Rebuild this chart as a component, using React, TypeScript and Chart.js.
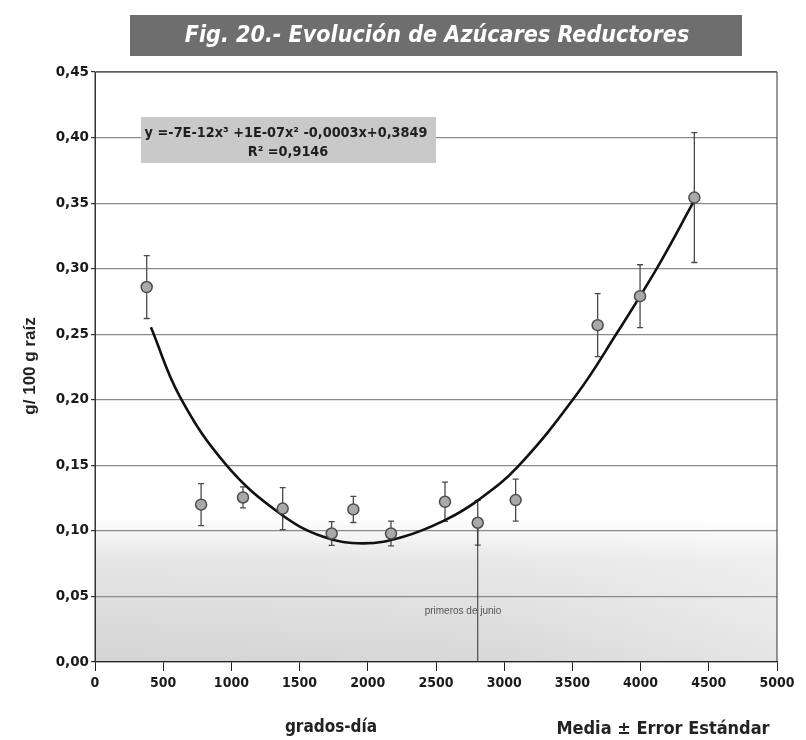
import React, { useEffect, useRef } from "react";
import { Chart, registerables } from "chart.js";

Chart.register(...registerables);

// Measured means (grados-día vs g/100 g raíz) and standard errors
const gradosDia = [379, 778, 1085, 1376, 1735, 1894, 2170, 2566, 2806, 3084, 3685, 3996, 4394];
const azucares = [0.286, 0.120, 0.1255, 0.117, 0.098, 0.1164, 0.098, 0.1222, 0.1062, 0.1235, 0.2569, 0.279, 0.3542];
const errorEst = [0.024, 0.016, 0.008, 0.016, 0.009, 0.010, 0.0095, 0.015, 0.017, 0.016, 0.024, 0.024, 0.0495];

// Trend line
const trendX = [410, 623, 965, 1356, 1674, 1967, 2260, 2566, 2810, 3100, 3531, 3824, 4118, 4394];
const trendY = [0.2553, 0.2022, 0.150, 0.1133, 0.0955, 0.0905, 0.0955, 0.1082, 0.1235, 0.149, 0.204, 0.2505, 0.300, 0.352];

const xTicks = [0, 500, 1000, 1500, 2000, 2500, 3000, 3500, 4000, 4500, 5000];
const yTicks = [0, 0.05, 0.1, 0.15, 0.2, 0.25, 0.3, 0.35, 0.4, 0.45];

const junioX = 2806;
const junioTop = 0.1062;

const titleText = "Fig. 20.- Evolución de Azúcares Reductores";
const eqLine1 = "y =-7E-12x³ +1E-07x² -0,0003x+0,3849";
const eqLine2 = "R² =0,9146";

const NARROW = '"Liberation Sans Narrow", "DejaVu Sans Condensed", "Liberation Sans", Arial, sans-serif';
const SANS = '"Liberation Sans", Arial, sans-serif';
const DEJAVU = '"DejaVu Sans", "Liberation Sans", sans-serif';

const decorPlugin = {
  id: "decor",
  beforeDatasetsDraw(chart: any) {
    const { ctx, scales } = chart;
    const x = scales.x, y = scales.y;
    ctx.save();
    // error bars
    ctx.strokeStyle = "#4a4a4a";
    ctx.lineWidth = 1.3;
    for (let i = 0; i < gradosDia.length; i++) {
      const px = x.getPixelForValue(gradosDia[i]);
      const top = y.getPixelForValue(azucares[i] + errorEst[i]);
      const bot = y.getPixelForValue(azucares[i] - errorEst[i]);
      ctx.beginPath();
      ctx.moveTo(px, top); ctx.lineTo(px, bot);
      ctx.moveTo(px - 3, top); ctx.lineTo(px + 3, top);
      ctx.moveTo(px - 3, bot); ctx.lineTo(px + 3, bot);
      ctx.stroke();
    }
    // vertical marker line
    const jx = x.getPixelForValue(junioX);
    ctx.strokeStyle = "#333";
    ctx.lineWidth = 1;
    ctx.beginPath();
    ctx.moveTo(jx, y.getPixelForValue(0));
    ctx.lineTo(jx, y.getPixelForValue(junioTop));
    ctx.stroke();
    ctx.fillStyle = "#555";
    ctx.font = "10px " + SANS;
    ctx.textAlign = "center";
    ctx.textBaseline = "middle";
    ctx.fillText("primeros de junio", x.getPixelForValue(2698), y.getPixelForValue(0.039));
    ctx.restore();
  },
  beforeDraw(chart: any) {
    const { ctx, chartArea: a, scales } = chart;
    const y = scales.y;
    ctx.save();
    ctx.fillStyle = "#ffffff";
    ctx.fillRect(0, 0, chart.width, chart.height);
    // faded scanned background in the lower part
    const y10 = y.getPixelForValue(0.11);
    const y0 = y.getPixelForValue(0);
    const g = ctx.createLinearGradient(0, y10, 0, y0);
    g.addColorStop(0, "rgba(225,225,225,0)");
    g.addColorStop(0.3, "rgba(226,226,226,0.9)");
    g.addColorStop(1, "rgba(212,212,212,1)");
    ctx.fillStyle = g;
    ctx.fillRect(a.left, y10, a.right - a.left, y0 - y10);
    const g2 = ctx.createLinearGradient(a.left, 0, a.right, 0);
    g2.addColorStop(0, "rgba(255,255,255,0)");
    g2.addColorStop(0.6, "rgba(255,255,255,0.1)");
    g2.addColorStop(1, "rgba(255,255,255,0.4)");
    ctx.fillStyle = g2;
    ctx.fillRect(a.left, y10, a.right - a.left, y0 - y10);
    ctx.restore();
  },
  afterDraw(chart: any) {
    const { ctx, chartArea: a } = chart;
    ctx.save();
    // frame
    ctx.strokeStyle = "#333";
    ctx.lineWidth = 1;
    ctx.beginPath();
    ctx.moveTo(a.left, a.bottom);
    ctx.lineTo(a.left, a.top);
    ctx.lineTo(a.right, a.top);
    ctx.lineTo(a.right, a.bottom);
    ctx.stroke();

    // title banner
    ctx.fillStyle = "#6e6e6e";
    ctx.fillRect(130, 15, 612, 41);
    ctx.fillStyle = "#ffffff";
    let fs = 24;
    ctx.font = `italic bold ${fs}px ${NARROW}`;
    const w = ctx.measureText(titleText).width;
    fs = Math.min(28, fs * 505 / w);
    ctx.font = `italic bold ${fs}px ${NARROW}`;
    ctx.textAlign = "center";
    ctx.textBaseline = "middle";
    ctx.fillText(titleText, 437, 36);

    // equation box
    ctx.fillStyle = "#c9c9c9";
    ctx.fillRect(141, 117, 295, 46);
    ctx.fillStyle = "#1e1e1e";
    let ef = 13;
    ctx.font = `bold ${ef}px ${NARROW}`;
    const ew = ctx.measureText(eqLine1).width;
    ef = Math.min(15, ef * 283 / ew);
    ctx.font = `bold ${ef}px ${NARROW}`;
    ctx.fillText(eqLine1, 286, 133);
    ctx.fillText(eqLine2, 288, 152);

    // axis titles
    ctx.fillStyle = "#222";
    ctx.font = `bold 17px ${SANS}`;
    ctx.save();
    ctx.translate(30, 366);
    ctx.rotate(-Math.PI / 2);
    ctx.fillText("g/ 100 g raíz", 0, 0);
    ctx.restore();
    ctx.font = `bold 17px ${NARROW}`;
    ctx.fillText("grados-día", 331, 728);
    ctx.font = `bold 18px ${NARROW}`;
    ctx.fillText("Media ± Error Estándar", 663, 729);
    ctx.restore();
  },
};

export default function App() {
  const ref = useRef<HTMLCanvasElement | null>(null);
  useEffect(() => {
    if (!ref.current) return;
    const chart = new Chart(ref.current, {
      type: "scatter",
      data: {
        datasets: [
          {
            label: "Tendencia",
            data: trendX.map((x, i) => ({ x, y: trendY[i] })),
            showLine: true,
            borderColor: "#111",
            borderWidth: 2.6,
            pointRadius: 0,
            tension: 0.4,
            order: 2,
          } as any,
          {
            label: "Media",
            data: gradosDia.map((x, i) => ({ x, y: azucares[i] })),
            pointRadius: 5.5,
            pointBackgroundColor: "#a9a9a9",
            pointBorderColor: "#4d4d4d",
            pointBorderWidth: 1.5,
            order: 1,
          } as any,
        ],
      },
      options: {
        responsive: false,
        animation: false,
        layout: { padding: { top: 72, right: 29, left: 0, bottom: 0 } },
        plugins: { legend: { display: false }, tooltip: { enabled: false } },
        scales: {
          x: {
            type: "linear",
            min: 0,
            max: 5000,
            afterBuildTicks: (s: any) => { s.ticks = xTicks.map((v) => ({ value: v })); },
            afterFit: (s: any) => { s.height = 78; },
            grid: { drawOnChartArea: false, drawTicks: true, tickLength: 9, color: "#222" },
            border: { color: "#222", width: 1.2 },
            ticks: {
              color: "#1a1a1a",
              font: { family: NARROW, size: 14, weight: "bold" },
              padding: 4,
              maxRotation: 0,
              autoSkip: false,
              callback: (v: any) => String(v),
            },
          },
          y: {
            type: "linear",
            min: 0,
            max: 0.45,
            afterBuildTicks: (s: any) => { s.ticks = yTicks.map((v) => ({ value: v })); },
            afterFit: (s: any) => { s.width = 95; },
            grid: { color: "#8a8a8a", lineWidth: 1.2, tickLength: 4, tickColor: "#333" },
            border: { color: "#333", width: 1 },
            ticks: {
              color: "#1a1a1a",
              font: { family: DEJAVU, size: 13.5, weight: "bold" },
              padding: 2,
              callback: (v: any) => Number(v).toFixed(2).replace(".", ","),
            },
          },
        },
      },
      plugins: [decorPlugin],
    });
    return () => chart.destroy();
  }, []);
  return (
    <div style={{ position: "fixed", left: 0, top: 0, width: 806, height: 740, background: "#fff" }}>
      <canvas ref={ref} width={806} height={740} style={{ width: 806, height: 740 }} />
    </div>
  );
}
